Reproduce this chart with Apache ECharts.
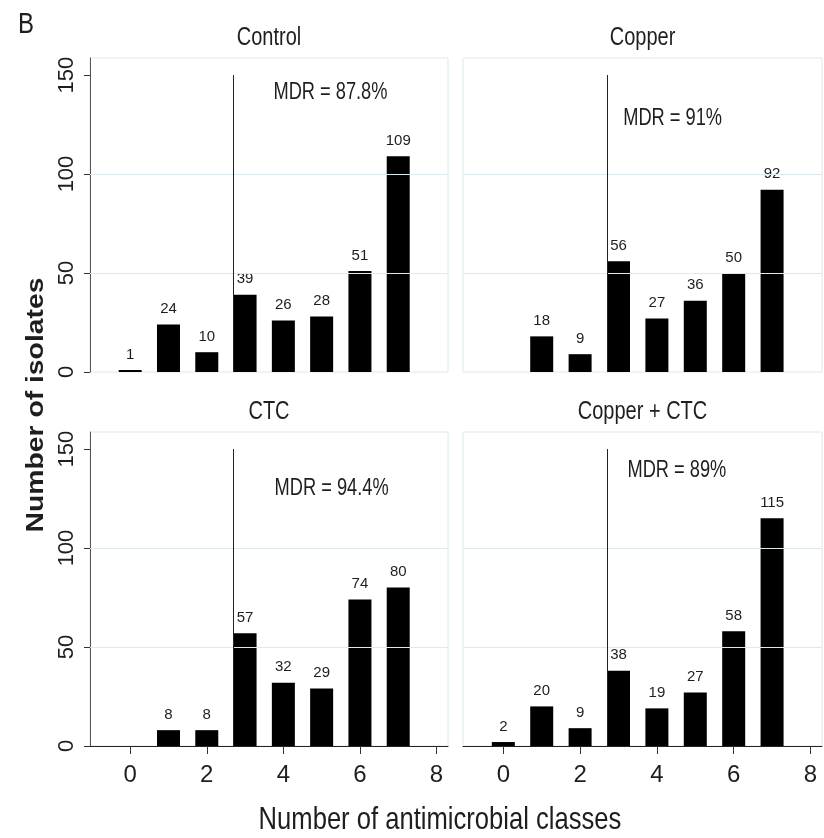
<!DOCTYPE html>
<html><head><meta charset="utf-8">
<script src="https://cdn.jsdelivr.net/npm/echarts@6/dist/echarts.min.js"></script>
<style>html,body{margin:0;padding:0;background:#fff}#c{width:824px;height:838px}</style>
</head><body><div id="c"></div>
<script>
// ---- data ----
const classes = [0, 1, 2, 3, 4, 5, 6, 7];
const panelTitles = ['Control', 'Copper', 'CTC', 'Copper + CTC'];
const controlCounts = [1, 24, 10, 39, 26, 28, 51, 109];
const copperCounts = [0, 18, 9, 56, 27, 36, 50, 92];
const ctcCounts = [0, 8, 8, 57, 32, 29, 74, 80];
const copperCtcCounts = [2, 20, 9, 38, 19, 27, 58, 115];
const mdrLabels = ['MDR = 87.8%', 'MDR = 91%', 'MDR = 94.4%', 'MDR = 89%'];
const mdrThreshold = 2.7;
const xTickValues = [0, 2, 4, 6, 8];
const yTickValues = [0, 50, 100, 150];
const yGridValues = [50, 100];

// ---- layout / style ----
const SANS = '"Liberation Sans", Arial, sans-serif';
const TXT = '#1e1e1e';
const GRIDC = '#dde9ee';
const allCounts = [controlCounts, copperCounts, ctcCounts, copperCtcCounts];
const grids = [
  {left: 90, top: 58, width: 358, height: 314},
  {left: 463, top: 58, width: 359, height: 314},
  {left: 90, top: 432, width: 358, height: 314},
  {left: 463, top: 432, width: 359, height: 314}
];
const X_MIN = -1.05, X_MAX = 8.3, Y_MAX = 158.6;
const mdrAnchor = [[5.23, 141], [4.41, 128], [5.26, 130], [4.52, 139]];

const option = {
  animation: false,
  backgroundColor: '#fff',
  grid: grids.map(g => Object.assign({show: true, borderColor: GRIDC, borderWidth: 1, backgroundColor: 'transparent', containLabel: false}, g)),
  xAxis: grids.map((g, i) => {
    const bottom = i >= 2;
    return {
      type: 'value', gridIndex: i, min: X_MIN, max: X_MAX,
      splitLine: {show: false},
      axisLine: {show: bottom, onZero: false, lineStyle: {color: '#222', width: 1}},
      axisTick: {show: bottom, customValues: xTickValues, length: 8, lineStyle: {color: '#333'}},
      axisLabel: {show: bottom, customValues: xTickValues, fontFamily: SANS, fontSize: 24, color: TXT, margin: 17}
    };
  }),
  yAxis: grids.map((g, i) => {
    const left = i % 2 === 0;
    return {
      type: 'value', gridIndex: i, min: 0, max: Y_MAX,
      splitLine: {show: false},
      axisLine: {show: left, onZero: false, lineStyle: {color: '#555', width: 1}},
      axisTick: {show: left, customValues: yTickValues, length: 6, lineStyle: {color: '#333'}},
      axisLabel: {show: left, customValues: yTickValues, rotate: 90, fontFamily: SANS, fontSize: 22, color: TXT, margin: 12}
    };
  }),
  series: []
};

allCounts.forEach((counts, i) => {
  // light grid lines
  option.series.push({
    type: 'line', xAxisIndex: i, yAxisIndex: i, data: [], z: 1, silent: true,
    markLine: {
      silent: true, symbol: ['none', 'none'], label: {show: false},
      lineStyle: {color: GRIDC, width: 1, type: 'solid'},
      data: yGridValues.map(v => ({yAxis: v}))
    }
  });
  option.series.push({
    type: 'bar', xAxisIndex: i, yAxisIndex: i, z: 3,
    barWidth: 23,
    data: classes.map((c, k) => [c, counts[k]]).filter(d => d[1] > 0),
    itemStyle: {color: '#000'},
    label: {show: true, position: 'top', distance: 8, fontFamily: SANS, fontSize: 15, color: TXT},
    markLine: {
      silent: true, symbol: ['none', 'none'], label: {show: false},
      lineStyle: {color: '#222', width: 1, type: 'solid'},
      data: [[{coord: [mdrThreshold, 0]}, {coord: [mdrThreshold, 150]}]]
    }
  });
});

const gtext = (x, y, text, font, extra, align) => Object.assign({
  type: 'text', x: x, y: y, silent: true, z: 10,
  style: {text: text, font: font, fill: TXT,
    textAlign: align || 'center', textVerticalAlign: 'middle', align: align || 'center', verticalAlign: 'middle'}
}, extra || {});

const chart = echarts.init(document.getElementById('c'), null, {renderer: 'canvas'});
chart.setOption(option);

// MDR annotations placed through each grid's own scales
const mdrGraphics = mdrAnchor.map((p, i) => {
  const px = chart.convertToPixel({gridIndex: i}, p);
  return gtext(px[0], px[1], mdrLabels[i], '24px ' + SANS, {scaleX: 0.76});
});

chart.setOption({
  graphic: [
    gtext(18, 25, 'B', '30px ' + SANS, {scaleX: 0.8}, 'left'),
    ...grids.map((g, i) => gtext(g.left + g.width / 2, g.top - 20, panelTitles[i], '25px ' + SANS, {scaleX: 0.8})),
    ...mdrGraphics,
    gtext(36, 405, 'Number of isolates', 'bold 24px ' + SANS, {rotation: Math.PI / 2, scaleX: 1.18}),
    gtext(440, 820, 'Number of antimicrobial classes', '32px ' + SANS, {scaleX: 0.8})
  ]
});
</script>
</body></html>
